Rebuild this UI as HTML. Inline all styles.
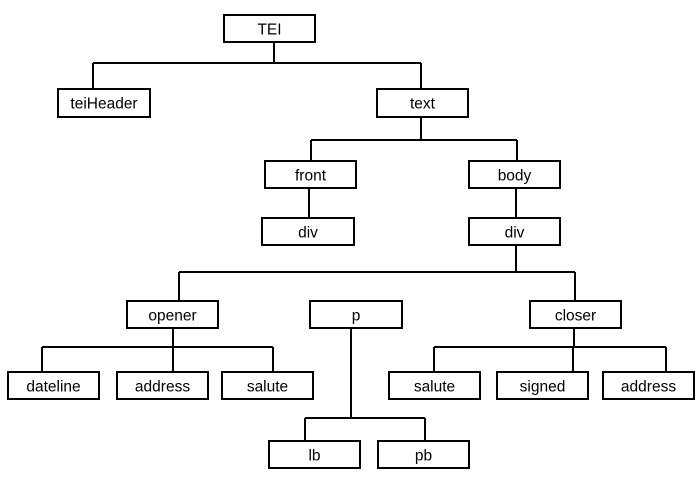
<!DOCTYPE html>
<html><head><meta charset="utf-8"><style>html,body{margin:0;padding:0;background:#fff}svg{display:block}</style></head>
<body>
<svg width="700" height="500" viewBox="0 0 700 500" xmlns="http://www.w3.org/2000/svg">
<g stroke="#000" stroke-width="2" fill="none">
<path d="M274 42V63M93 63H421M93 63V89M421 63V89"/>
<path d="M421 117V140M311 140H517M311 140V161M517 140V161"/>
<path d="M309 188V218M516 188V218"/>
<path d="M516 245V272M179 272H575M179 272V301M575 272V301"/>
<path d="M173 328V347M42 347H273M42 347V372M173 347V372M273 347V372"/>
<path d="M574 328V347M434 347H666M434 347V372M573 347V372M666 347V372"/>
<path d="M351 328V418M305 418H425M305 418V441M425 418V441"/>
<rect x="224" y="15" width="91" height="27"/>
<rect x="58" y="89" width="92" height="28"/>
<rect x="377" y="89" width="91" height="28"/>
<rect x="265" y="161" width="91" height="27"/>
<rect x="469" y="161" width="91" height="27"/>
<rect x="262" y="218" width="92" height="27"/>
<rect x="469" y="218" width="91" height="27"/>
<rect x="127" y="301" width="91" height="27"/>
<rect x="310" y="301" width="92" height="27"/>
<rect x="530" y="301" width="91" height="27"/>
<rect x="8" y="372" width="91" height="27"/>
<rect x="117" y="372" width="91" height="27"/>
<rect x="222" y="372" width="91" height="27"/>
<rect x="389" y="372" width="91" height="27"/>
<rect x="497" y="372" width="91" height="27"/>
<rect x="603" y="372" width="91" height="27"/>
<rect x="269" y="441" width="91" height="27"/>
<rect x="378" y="441" width="91" height="27"/>
</g>
<g font-family="Liberation Sans, Arial, sans-serif" font-size="15.5" text-anchor="middle" fill="#000">
<text x="269.5" y="34.5">TEI</text>
<text x="104" y="108.5">teiHeader</text>
<text x="422.5" y="108.5">text</text>
<text x="310.5" y="180.5">front</text>
<text x="514.5" y="180.5">body</text>
<text x="308" y="237.5">div</text>
<text x="514.5" y="237.5">div</text>
<text x="172.5" y="320.5">opener</text>
<text x="356" y="320.5">p</text>
<text x="575.5" y="320.5">closer</text>
<text x="53.5" y="391.5">dateline</text>
<text x="162.5" y="391.5">address</text>
<text x="267.5" y="391.5">salute</text>
<text x="434.5" y="391.5">salute</text>
<text x="542.5" y="391.5">signed</text>
<text x="648.5" y="391.5">address</text>
<text x="314.5" y="460.5">lb</text>
<text x="423.5" y="460.5">pb</text>
</g>
</svg>
</body></html>
